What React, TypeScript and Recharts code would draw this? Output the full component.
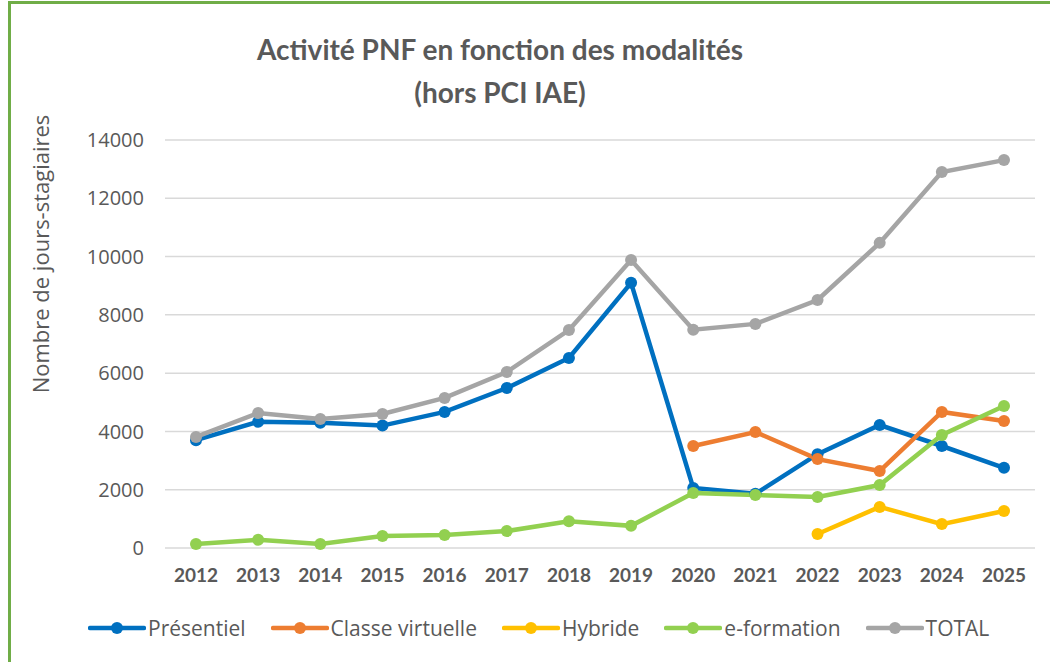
import { CartesianGrid, Line, LineChart, XAxis, YAxis } from 'recharts';

const years = ['2012', '2013', '2014', '2015', '2016', '2017', '2018', '2019', '2020', '2021', '2022', '2023', '2024', '2025'];

const presentiel = [3700, 4330, 4300, 4200, 4670, 5490, 6520, 9100, 2060, 1860, 3220, 4220, 3500, 2750];
const classeVirtuelle = [null, null, null, null, null, null, null, null, 3500, 3980, 3050, 2640, 4670, 4360];
const hybride = [null, null, null, null, null, null, null, null, null, null, 480, 1410, 820, 1270];
const eFormation = [140, 280, 140, 410, 450, 580, 920, 760, 1890, 1820, 1750, 2160, 3880, 4870];
const total = [3810, 4630, 4430, 4600, 5150, 6040, 7480, 9880, 7490, 7690, 8510, 10470, 12900, 13310];

const yTicks = [0, 2000, 4000, 6000, 8000, 10000, 12000, 14000];

const series = [
  { key: 'presentiel', name: 'Présentiel', color: '#0070C0' },
  { key: 'classe', name: 'Classe virtuelle', color: '#ED7D31' },
  { key: 'hybride', name: 'Hybride', color: '#FFC000' },
  { key: 'eformation', name: 'e-formation', color: '#92D050' },
  { key: 'total', name: 'TOTAL', color: '#A5A5A5' },
];

const data = years.map((year, i) => ({
  year,
  presentiel: presentiel[i],
  classe: classeVirtuelle[i],
  hybride: hybride[i],
  eformation: eFormation[i],
  total: total[i],
}));

const textColor = '#595959';
const font = 'Lato, "Open Sans", sans-serif';
const sans = '"Open Sans", sans-serif';
const borderGreen = '#70AD47';

function ChartLegend() {
  return (
    <div
      style={{
        position: 'absolute',
        top: 612,
        left: 88,
        display: 'flex',
        gap: 25,
        fontFamily: sans,
        fontSize: 21,
        color: textColor,
        lineHeight: '32px',
      }}
    >
      {series.map((s) => (
        <div key={s.key} style={{ display: 'flex', alignItems: 'center' }}>
          <svg width={58} height={14} style={{ marginRight: 2 }}>
            <line x1={2} y1={7} x2={56} y2={7} stroke={s.color} strokeWidth={4.5} strokeLinecap="round" />
            <circle cx={29} cy={7} r={6} fill={s.color} />
          </svg>
          <span>{s.name}</span>
        </div>
      ))}
    </div>
  );
}

export default function App() {
  return (
    <div style={{ position: 'relative', width: 1050, height: 662, margin: -8, background: '#fff', fontFamily: font }}>
      <div
        style={{
          position: 'absolute',
          left: 0,
          width: 1000,
          top: 28,
          textAlign: 'center',
          fontSize: 28,
          fontWeight: 'bold',
          color: textColor,
          lineHeight: '43px',
        }}
      >
        Activité PNF en fonction des modalités
        <br />
        (hors PCI IAE)
      </div>
      <LineChart width={1050} height={662} data={data} margin={{ top: 140, right: 15, bottom: 84, left: 0 }}>
        <CartesianGrid stroke="#D9D9D9" strokeWidth={1.5} vertical={false} />
        <XAxis
          dataKey="year"
          axisLine={false}
          tickLine={false}
          padding={{ left: 31, right: 31 }}
          tick={{ fill: textColor, fontSize: 19, fontWeight: 'bold', fontFamily: font }}
          tickMargin={15}
          height={30}
        />
        <YAxis
          domain={[0, 14000]}
          ticks={yTicks}
          axisLine={false}
          tickLine={false}
          width={165}
          tick={{ fill: textColor, fontSize: 20, fontFamily: sans }}
          tickMargin={15}
          label={{
            value: 'Nombre de jours-stagiaires',
            angle: -90,
            position: 'insideLeft',
            offset: 41,
            dy: -90,
            style: { fill: textColor, fontSize: 22, fontFamily: sans, textAnchor: 'middle' },
          }}
        />
        {series.map((s) => (
          <Line
            key={s.key}
            dataKey={s.key}
            name={s.name}
            stroke={s.color}
            strokeWidth={4.5}
            dot={{ r: 6, fill: s.color, stroke: s.color, strokeWidth: 0 }}
            activeDot={false}
            isAnimationActive={false}
            type="linear"
          />
        ))}
      </LineChart>
      <ChartLegend />
      <div style={{ position: 'fixed', left: 8, top: 1, width: 1042, height: 3, background: borderGreen, zIndex: 10 }} />
      <div style={{ position: 'fixed', left: 8, top: 1, width: 3, height: 661, background: borderGreen, zIndex: 10 }} />
    </div>
  );
}
